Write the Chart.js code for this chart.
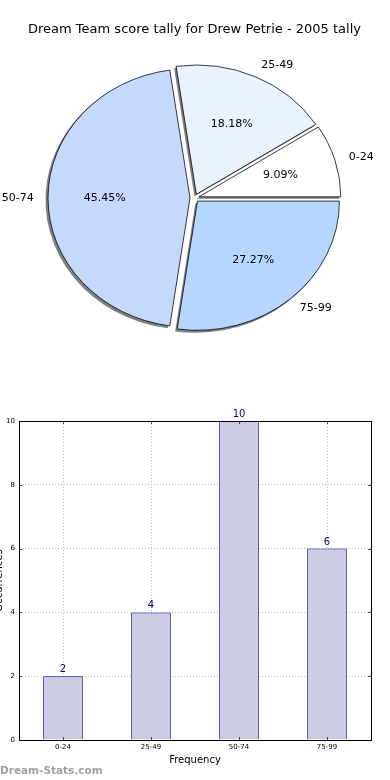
<!DOCTYPE html>
<html><head><meta charset="utf-8">
<script src="https://cdn.jsdelivr.net/npm/chart.js@4/dist/chart.umd.min.js"></script>
<style>
html,body{margin:0;padding:0;background:#fff;width:390px;height:780px;overflow:hidden;}
#pie{position:absolute;left:0;top:0;}
#bar{position:absolute;left:0;top:400px;}
#wm{position:absolute;left:0;top:763px;font:bold 10.5px "DejaVu Sans";line-height:14px;color:#a0a0a0;white-space:nowrap;}
</style></head><body>
<canvas id="pie" width="390" height="400"></canvas>
<canvas id="bar" width="390" height="380"></canvas>
<div id="wm">Dream-Stats.com</div>
<script>
const chartTitle = 'Dream Team score tally for Drew Petrie - 2005 tally';
const categories = ['0-24', '25-49', '50-74', '75-99'];
const frequencies = [2, 4, 10, 6];
const sliceColors = ['#ffffff', '#eaf1ff', '#c5d9ff', '#b5d6ff'];
const yTicks = [0, 2, 4, 6, 8, 10];
const xAxisTitle = 'Frequency';
const yAxisTitle = 'Occurrences';

const FONT = '"DejaVu Sans", "Liberation Sans", sans-serif';
const total = frequencies.reduce((a, b) => a + b, 0);
// matplotlib draws counter-clockwise from 3 o'clock; Chart.js draws clockwise,
// so reverse the order and start at 3 o'clock.
const order = categories.map((_, i) => i).reverse();
const pieLabels = order.map(i => categories[i]);
const pieData = order.map(i => frequencies[i]);
const pieColors = order.map(i => sliceColors[i]);
const Y_SQUASH = 0.91;
const EXPLODE = 4.5;

function explodeVec(arc) {
  const p = arc.getProps(['startAngle', 'endAngle']);
  const mid = (p.startAngle + p.endAngle) / 2;
  return [Math.cos(mid) * EXPLODE, Math.sin(mid) * EXPLODE];
}

const pieDecor = {
  id: 'pieDecor',
  beforeDatasetsDraw(chart) {
    const meta = chart.getDatasetMeta(0);
    const a = meta.data[0];
    const ctx = chart.ctx;
    ctx.save();
    ctx.translate(a.x, a.y);
    ctx.scale(1, Y_SQUASH);
    ctx.translate(-a.x, -a.y);
    // drop shadows of the exploded wedges
    meta.data.forEach(arc => {
      const p = arc.getProps(['x', 'y', 'startAngle', 'endAngle', 'outerRadius']);
      const [ex, ey] = explodeVec(arc);
      const cx = p.x + ex - 2, cy = p.y + ey + 2 / Y_SQUASH;
      ctx.beginPath();
      ctx.moveTo(cx, cy);
      ctx.arc(cx, cy, p.outerRadius + 0.5, p.startAngle, p.endAngle);
      ctx.closePath();
      ctx.fillStyle = 'rgba(0,0,0,0.5)';
      ctx.fill();
    });
    // explode each wedge along its mid angle
    meta.data.forEach(arc => {
      if (arc._exploded) return;
      const orig = arc.draw;
      arc.draw = function (c, area) {
        const [ex, ey] = explodeVec(this);
        c.save();
        c.translate(ex, ey);
        orig.call(this, c, area);
        c.restore();
      };
      arc._exploded = true;
    });
  },
  afterDatasetsDraw(chart) {
    const ctx = chart.ctx;
    ctx.restore();
    ctx.save();
    ctx.font = '11px ' + FONT;
    ctx.fillStyle = '#000';
    ctx.textBaseline = 'middle';
    chart.getDatasetMeta(0).data.forEach((arc, i) => {
      const p = arc.getProps(['x', 'y', 'startAngle', 'endAngle', 'outerRadius']);
      const mid = (p.startAngle + p.endAngle) / 2;
      const dx = Math.cos(mid), dy = Math.sin(mid) * Y_SQUASH;
      const r = p.outerRadius;
      ctx.textAlign = dx > 0 ? 'left' : 'right';
      ctx.fillText(pieLabels[i], p.x + (EXPLODE + 1.1 * r) * dx, p.y + (EXPLODE + 1.1 * r) * dy);
      ctx.textAlign = 'center';
      ctx.fillText((pieData[i] / total * 100).toFixed(2) + '%', p.x + (EXPLODE + 0.6 * r) * dx, p.y + (EXPLODE + 0.6 * r) * dy);
    });
    ctx.restore();
  }
};

new Chart(document.getElementById('pie'), {
  type: 'pie',
  data: {
    labels: pieLabels,
    datasets: [{
      data: pieData,
      backgroundColor: pieColors,
      borderColor: '#000',
      borderWidth: 0.8,
      offset: 0,
      hoverOffset: 0,
      radius: 142
    }]
  },
  options: {
    responsive: false,
    animation: false,
    rotation: 90,
    layout: { padding: { left: 0, right: 1, top: 0, bottom: 41.6 } },
    plugins: {
      legend: { display: false },
      tooltip: { enabled: false },
      title: {
        display: true,
        text: chartTitle,
        color: '#000',
        font: { family: FONT, size: 13, weight: 'normal', lineHeight: 1.2 },
        padding: { top: 22, bottom: 0 }
      }
    }
  },
  plugins: [pieDecor]
});

const barDecor = {
  id: 'barDecor',
  afterDatasetsDraw(chart) {
    const ctx = chart.ctx;
    const a = chart.chartArea;
    const xs = chart.scales.x, ys = chart.scales.y;
    ctx.save();
    // inner tick marks
    ctx.strokeStyle = '#444';
    ctx.lineWidth = 1;
    ctx.beginPath();
    yTicks.forEach(v => {
      const y = Math.round(ys.getPixelForValue(v)) + 0.5;
      ctx.moveTo(a.left, y); ctx.lineTo(a.left + 3, y);
      ctx.moveTo(a.right, y); ctx.lineTo(a.right - 3, y);
    });
    categories.forEach((c, i) => {
      const x = Math.round(xs.getPixelForValue(i)) + 0.5;
      ctx.moveTo(x, a.bottom); ctx.lineTo(x, a.bottom - 3);
      ctx.moveTo(x, a.top); ctx.lineTo(x, a.top + 3);
    });
    ctx.stroke();
    // frame
    ctx.strokeStyle = '#000';
    ctx.strokeRect(a.left + 0.5, a.top + 0.5, a.right - a.left, a.bottom - a.top);
    // value labels
    ctx.font = '10px ' + FONT;
    ctx.fillStyle = '#00008b';
    ctx.textAlign = 'center';
    ctx.textBaseline = 'alphabetic';
    chart.getDatasetMeta(0).data.forEach((bar, i) => {
      ctx.fillText(String(frequencies[i]), bar.x, bar.y - 4);
    });
    // y axis title (partly outside the canvas, as in the reference)
    ctx.fillStyle = '#000';
    ctx.translate(-1, (a.top + a.bottom) / 2);
    ctx.rotate(-Math.PI / 2);
    ctx.textBaseline = 'middle';
    ctx.fillText(yAxisTitle, 0, 0);
    ctx.restore();
  }
};

new Chart(document.getElementById('bar'), {
  type: 'bar',
  data: {
    labels: categories,
    datasets: [{
      data: frequencies,
      backgroundColor: '#cbcbe5',
      borderColor: '#00008b',
      borderWidth: 1,
      barPercentage: 0.45,
      categoryPercentage: 1
    }]
  },
  options: {
    responsive: false,
    animation: false,
    layout: { padding: { left: 0, right: 19, top: 21, bottom: 12 } },
    plugins: { legend: { display: false }, tooltip: { enabled: false } },
    scales: {
      x: {
        grid: { offset: false, color: '#bdbdbd', lineWidth: 1, drawTicks: false },
        border: { display: false, dash: [1, 2] },
        ticks: { font: { family: FONT, size: 7 }, color: '#000', padding: 3 },
        title: { display: true, text: xAxisTitle, color: '#000', font: { family: FONT, size: 10 }, padding: { top: 0, bottom: 2 } },
        afterFit(s) { s.height = 28; }
      },
      y: {
        min: 0, max: 10,
        afterBuildTicks(s) { s.ticks = yTicks.map(v => ({ value: v })); },
        grid: { color: '#bdbdbd', lineWidth: 1, drawTicks: false },
        border: { display: false, dash: [1, 2] },
        ticks: { font: { family: FONT, size: 7 }, color: '#000', padding: 4 },
        afterFit(s) { s.width = 19; }
      }
    }
  },
  plugins: [barDecor]
});
</script>
</body></html>
